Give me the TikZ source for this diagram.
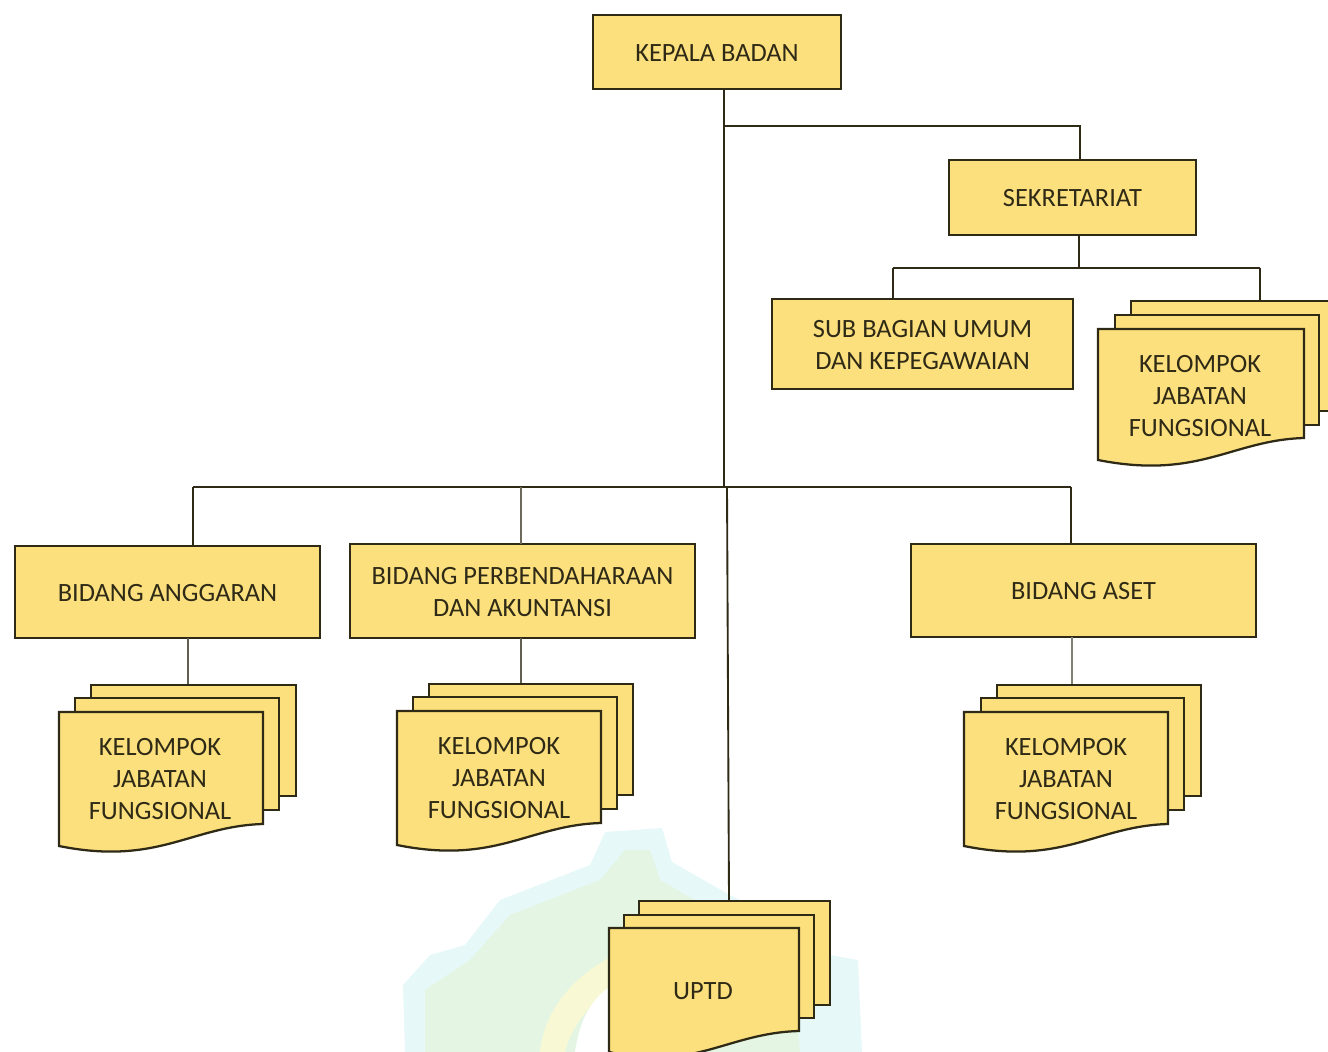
\documentclass[tikz,border=0pt]{standalone}
\usepackage{fontspec}
\setmainfont{Carlito}
\definecolor{boxfill}{HTML}{FDE07E}
\definecolor{boxline}{HTML}{2E2A16}
\definecolor{wmcyan}{HTML}{E6F8F7}
\definecolor{wmgreen}{HTML}{E4F6E3}
\definecolor{wmyellow}{HTML}{F8F8D4}
\tikzset{
  unitbox/.style={draw=boxline,fill=boxfill,line width=1.8pt,outer sep=0pt,inner sep=0pt,anchor=north west},
  sheet/.style={draw=boxline,fill=boxfill,line width=1.7pt,line join=miter},
  lbl/.style={font=\fontsize{19.8}{24}\selectfont,text=boxline,align=center,inner sep=0pt},
  link/.style={draw=boxline,line width=1.4pt}
}
% front sheet: x0 ytop x1 yright yleft
\newcommand{\wavesheet}[5]{%
  \path[sheet] (#1,#2) -- (#3,#2) -- (#3,#4)
    .. controls ({#3-72},{#4+2}) and ({#3-105},{#5+20}) .. ({#1},#5) -- cycle;}
\newcommand{\flatsheet}[5]{%
  \path[sheet] (#1,#2) -- (#3,#2) -- (#3,#4) -- (#1,#5) -- cycle;}
\newcommand{\boxat}[6]{% name x0 y0 x1 y1 text
  \pgfmathsetmacro{\boxw}{(#4-#2)*0.75}\pgfmathsetmacro{\boxh}{(#5-#3)*0.75}
  \node[unitbox,minimum width=\boxw pt,minimum height=\boxh pt] (#1) at (#2,#3) {};
  \node[lbl] (#1label) at ({(#2+#4)/2},{(#3+#5)/2+0.8}) {#6};}
\begin{document}
\begin{tikzpicture}[x=0.75pt,y=-0.75pt]
\useasboundingbox (0,0) rectangle (1328,1052);
\begin{scope}
\clip (0,0) rectangle (1328,1052);
% watermark
\fill[wmcyan] (605,832) -- (662,828) -- (672,862) -- (730,895) -- (800,930) -- (830,955) -- (858,960) -- (862,1052) -- (405,1052) -- (403,985) -- (430,955) -- (465,945) -- (500,900) -- (590,865) -- cycle;
\fill[wmgreen] (625,850) -- (650,850) -- (660,880) -- (720,915) -- (790,960) -- (800,1052) -- (425,1052) -- (425,990) -- (470,960) -- (510,915) -- (600,880) -- cycle;
\fill[wmyellow] (540,1052) .. controls (545,1000) and (590,960) .. (640,945) -- (660,960) .. controls (620,975) and (575,1010) .. (565,1052) -- cycle;
\fill[white] (575,1052) .. controls (580,1020) and (590,1000) .. (612,985) -- (612,1052) -- cycle;

% boxes
\boxat{kepala}{593}{15}{841}{89}{KEPALA BADAN}
\boxat{sekre}{949}{160}{1196}{235}{SEKRETARIAT}
\boxat{subbag}{772}{299}{1073}{389}{SUB BAGIAN UMUM\\DAN KEPEGAWAIAN}
\boxat{ang}{15}{546}{320}{638}{BIDANG ANGGARAN}
\boxat{per}{350}{544}{695}{638}{BIDANG PERBENDAHARAAN\\DAN AKUNTANSI}
\boxat{aset}{911}{544}{1256}{637}{BIDANG ASET}

% named junctions
\coordinate (trunk) at (724,90);
\coordinate (secJ) at (724,126);
\coordinate (secIn) at (1080,126);
\coordinate (midJ) at (724,487);
\coordinate (midJb) at (727,487);
\coordinate (angJ) at (193,487);
\coordinate (perJ) at (521,487);
\coordinate (asetJ) at (1071,487);
\coordinate (subMid) at (1079,268);
\coordinate (subL) at (893,268);
\coordinate (subR) at (1260,268);
\coordinate (uptdTop) at (729,901);
\coordinate (kj1Top) at (1260,301);
\coordinate (kj2Top) at (188,685);
\coordinate (kj3Top) at (521,684);
\coordinate (kj4Top) at (1072,685);

% connectors
\draw[link] (trunk |- kepala.south) -- (midJ) -- (midJb) -- (uptdTop);
\draw[link] (secJ) -- (secIn) -- (secIn |- sekre.north);
\draw[link] (angJ) -- (asetJ);
\draw[link] (angJ) -- (angJ |- ang.north);
\draw[link,draw=boxline!70] (perJ) -- (perJ |- per.north);
\draw[link] (asetJ) -- (asetJ |- aset.north);
\draw[link] (subMid |- sekre.south) -- (subMid);
\draw[link] (subL) -- (subR);
\draw[link] (subL) -- (subL |- subbag.north);
\draw[link] (subR) -- (kj1Top);
\draw[link,draw=boxline!75] (kj2Top |- ang.south) -- (kj2Top);
\draw[link,draw=boxline!75] (kj3Top |- per.south) -- (kj3Top);
\draw[link,draw=boxline!60] (kj4Top |- aset.south) -- (kj4Top);

% stacks
\flatsheet{1131}{301}{1340}{411}{411}
\flatsheet{1115}{315}{1319}{425}{425}
\wavesheet{1098}{329}{1304}{438}{460}
\node[lbl] (kj1) at (1200,396) {KELOMPOK\\JABATAN\\FUNGSIONAL};

\flatsheet{91}{685}{296}{796}{796}
\flatsheet{75}{698}{279}{810}{810}
\wavesheet{59}{712}{263}{824}{846}
\node[lbl] (kj2) at (160,779) {KELOMPOK\\JABATAN\\FUNGSIONAL};

\flatsheet{429}{684}{633}{795}{795}
\flatsheet{413}{697}{617}{809}{809}
\wavesheet{397}{711}{601}{823}{845}
\node[lbl] (kj3) at (499,778) {KELOMPOK\\JABATAN\\FUNGSIONAL};

\flatsheet{997}{685}{1201}{796}{796}
\flatsheet{981}{698}{1184}{810}{810}
\wavesheet{964}{712}{1168}{824}{846}
\node[lbl] (kj4) at (1066,779) {KELOMPOK\\JABATAN\\FUNGSIONAL};

\flatsheet{639}{901}{830}{1005}{1005}
\flatsheet{624}{915}{814}{1018}{1018}
\wavesheet{609}{928}{799}{1031}{1052}
\node[lbl] (uptd) at (703,991) {UPTD};
\end{scope}
\end{tikzpicture}
\end{document}
